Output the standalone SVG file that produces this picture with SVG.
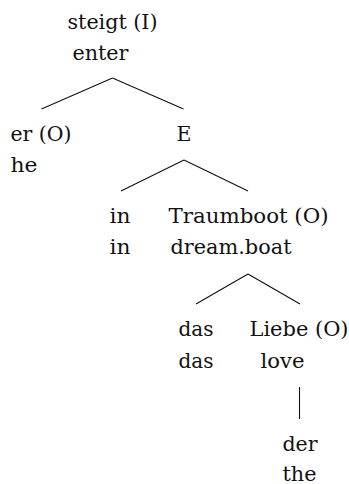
<svg xmlns="http://www.w3.org/2000/svg" width="349" height="484" viewBox="0 0 349 484">
<style>
text{font-family:'DejaVu Serif',serif;font-size:20px;fill:#111;}
.edge{stroke:#111;stroke-width:1.1;fill:none;}
</style>
<rect width="349" height="484" fill="#fff"/>
<g id="connectors">
<line class="edge" x1="112.5" y1="78" x2="41.5" y2="109"/>
<line class="edge" x1="112.5" y1="78" x2="183.5" y2="109"/>
<line class="edge" x1="184" y1="160" x2="121" y2="191"/>
<line class="edge" x1="184" y1="160" x2="248" y2="191"/>
<line class="edge" x1="248" y1="274" x2="196" y2="304"/>
<line class="edge" x1="248" y1="274" x2="300" y2="304"/>
<line class="edge" x1="299.5" y1="387" x2="299.5" y2="419"/>
</g>
<g id="node-steigt">
<text x="67.5" y="28.7" textLength="90" lengthAdjust="spacingAndGlyphs">steigt (I)</text>
<text x="72.5" y="59.5" textLength="56" lengthAdjust="spacingAndGlyphs">enter</text>
</g>
<g id="node-er">
<text x="10.5" y="140.5" textLength="61" lengthAdjust="spacingAndGlyphs">er (O)</text>
<text x="10.5" y="172" textLength="27" lengthAdjust="spacingAndGlyphs">he</text>
</g>
<g id="node-E">
<text x="176.5" y="140.5" textLength="15" lengthAdjust="spacingAndGlyphs">E</text>
</g>
<g id="node-in">
<text x="109.5" y="222.7" textLength="21" lengthAdjust="spacingAndGlyphs">in</text>
<text x="109.5" y="254.3" textLength="21" lengthAdjust="spacingAndGlyphs">in</text>
</g>
<g id="node-traumboot">
<text x="168.5" y="222.7" textLength="160" lengthAdjust="spacingAndGlyphs">Traumboot (O)</text>
<text x="170.5" y="254.3" textLength="121" lengthAdjust="spacingAndGlyphs">dream.boat</text>
</g>
<g id="node-das">
<text x="178.5" y="335.7" textLength="35" lengthAdjust="spacingAndGlyphs">das</text>
<text x="178.5" y="367.5" textLength="35" lengthAdjust="spacingAndGlyphs">das</text>
</g>
<g id="node-liebe">
<text x="249.5" y="335.7" textLength="99" lengthAdjust="spacingAndGlyphs">Liebe (O)</text>
<text x="260.5" y="367.5" textLength="44" lengthAdjust="spacingAndGlyphs">love</text>
</g>
<g id="node-der">
<text x="282.5" y="450.7" textLength="35" lengthAdjust="spacingAndGlyphs">der</text>
<text x="282.5" y="480.5" textLength="34" lengthAdjust="spacingAndGlyphs">the</text>
</g>
</svg>
